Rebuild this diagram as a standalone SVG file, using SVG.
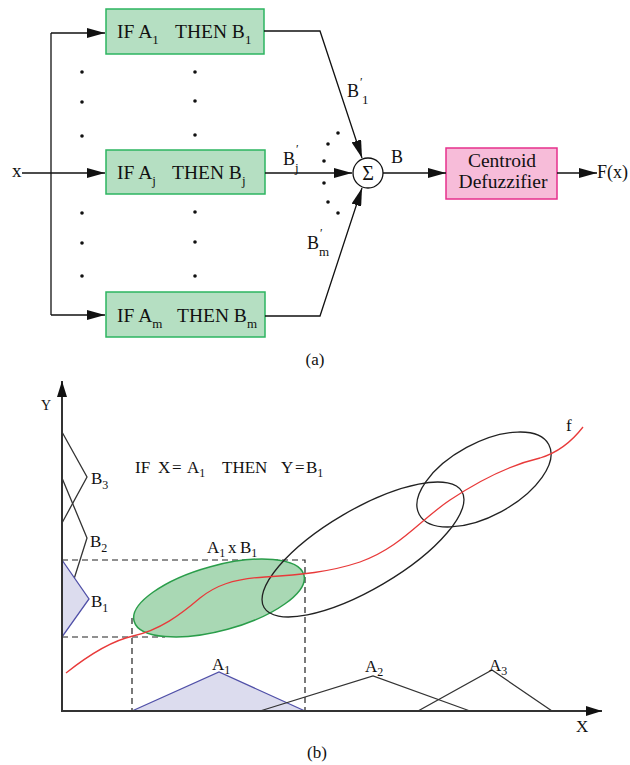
<svg xmlns="http://www.w3.org/2000/svg" width="630" height="765" viewBox="0 0 630 765">
<style>
text{font-family:"Liberation Serif","Times New Roman",serif;fill:#111}
.bt{font-size:19.5px}
.sb{font-size:13px}
.lb{font-size:17px}
.ls{font-size:12px}
.rule{fill:#b5dfc2;stroke:#2db560;stroke-width:1.5}
.ln{fill:none;stroke:#111;stroke-width:1.3}
.ax{fill:none;stroke:#333;stroke-width:2}
.tri{fill:none;stroke:#333;stroke-width:1.3}
.mf{fill:#dcdcee;stroke:#5050a8;stroke-width:1.3}
.dash{fill:none;stroke:#222;stroke-width:1.2;stroke-dasharray:6 4}
.dot{fill:#111}
</style>
<defs>
<marker id="ah" markerUnits="userSpaceOnUse" markerWidth="18" markerHeight="10" refX="18" refY="5" orient="auto">
<path d="M0,0 L18,5 L0,10 z" fill="#111"/>
</marker>
<marker id="ah2" markerUnits="userSpaceOnUse" markerWidth="16" markerHeight="10" refX="16" refY="5" orient="auto">
<path d="M0,0 L16,5 L0,10 z" fill="#111"/>
</marker>
</defs>
<rect width="630" height="765" fill="#fff"/>

<!-- Part (a) -->
<g id="input-x"><text x="12" y="177" font-size="19">x</text></g>

<g id="rule-1">
<rect class="rule" x="106" y="9" width="158" height="45"/>
<text class="bt" x="117" y="38">IF A<tspan class="sb" dy="6">1</tspan><tspan x="175" dy="-6">THEN B</tspan><tspan class="sb" dy="6">1</tspan></text>
</g>
<g id="rule-j">
<rect class="rule" x="106" y="150" width="159" height="44"/>
<text class="bt" x="117" y="179">IF A<tspan class="sb" dy="6">j</tspan><tspan x="172" dy="-6">THEN B</tspan><tspan class="sb" dy="6">j</tspan></text>
</g>
<g id="rule-m">
<rect class="rule" x="106" y="292" width="159" height="45"/>
<text class="bt" x="117" y="322">IF A<tspan class="sb" dy="6">m</tspan><tspan x="177" dy="-6">THEN B</tspan><tspan class="sb" dy="6">m</tspan></text>
</g>

<g id="dots-rules">
<circle class="dot" cx="82" cy="72" r="1.8"/><circle class="dot" cx="82" cy="102" r="1.8"/><circle class="dot" cx="82" cy="136" r="1.8"/>
<circle class="dot" cx="195" cy="72" r="1.8"/><circle class="dot" cx="195" cy="101" r="1.8"/><circle class="dot" cx="195" cy="135" r="1.8"/>
<circle class="dot" cx="82" cy="213" r="1.8"/><circle class="dot" cx="82" cy="243" r="1.8"/><circle class="dot" cx="82" cy="276" r="1.8"/>
<circle class="dot" cx="195" cy="212" r="1.8"/><circle class="dot" cx="195" cy="242" r="1.8"/><circle class="dot" cx="195" cy="276" r="1.8"/>
</g>

<g id="sum">
<circle cx="368" cy="173" r="15" fill="#fff" stroke="#111" stroke-width="1.3"/>
<text x="368" y="180" font-size="20" text-anchor="middle">Σ</text>
</g>
<g id="dots-sum">
<circle class="dot" cx="338" cy="133" r="1.8"/><circle class="dot" cx="328" cy="144" r="1.8"/><circle class="dot" cx="324" cy="161" r="1.8"/>
<circle class="dot" cx="324" cy="183" r="1.8"/><circle class="dot" cx="328" cy="202" r="1.8"/><circle class="dot" cx="338" cy="213" r="1.8"/>
</g>

<g id="defuzzifier">
<rect x="446" y="148" width="111" height="51" fill="#f7bcd9" stroke="#e6308c" stroke-width="1.5"/>
<text x="502" y="167" font-size="19.5" text-anchor="middle">Centroid</text>
<text x="503" y="188" font-size="19.5" text-anchor="middle">Defuzzifier</text>
</g>
<g id="output"><text x="597" y="178" font-size="18">F(x)</text></g>

<g id="connectors">
<line class="ln" x1="22" y1="173" x2="105" y2="173" marker-end="url(#ah)"/>
<line class="ln" x1="51" y1="33" x2="51" y2="315"/>
<line class="ln" x1="51" y1="33" x2="105" y2="33" marker-end="url(#ah)"/>
<line class="ln" x1="51" y1="315" x2="105" y2="315" marker-end="url(#ah)"/>
<polyline class="ln" points="264,31 320,31 362,158" marker-end="url(#ah)"/>
<line class="ln" x1="265" y1="173" x2="352" y2="173" marker-end="url(#ah)"/>
<polyline class="ln" points="265,316 320,316 362,188" marker-end="url(#ah)"/>
<line class="ln" x1="383" y1="173" x2="446" y2="173" marker-end="url(#ah)"/>
<line class="ln" x1="557" y1="173" x2="597" y2="173" marker-end="url(#ah)"/>
</g>

<g id="connector-labels">
<text x="347" y="97" font-size="18">B</text><text x="360" y="86" font-size="12">′</text><text x="362" y="104" font-size="13">1</text>
<text x="283" y="165" font-size="18">B</text><text x="296" y="153" font-size="12">′</text><text x="295" y="172" font-size="13">j</text>
<text x="307" y="249" font-size="18">B</text><text x="320" y="237" font-size="12">′</text><text x="319" y="256" font-size="13">m</text>
<text x="391" y="163" font-size="18">B</text>
</g>

<text x="315" y="365" font-size="17" text-anchor="middle">(a)</text>

<!-- Part (b) -->
<g id="plot-b">
<g id="dashed">
<polyline class="dash" points="62,560 305,560 305,711"/>
<polyline class="dash" points="62,637 165,637"/>
<line class="dash" x1="132" y1="618" x2="132" y2="711"/>
</g>
<g id="y-sets">
<polyline class="tri" points="62,432 87,477 62,523"/>
<polyline class="tri" points="62,478 87,538 62,617"/>
<polygon class="mf" points="62,560 89,599 62,637"/>
<text class="lb" x="91" y="484">B<tspan class="ls" dy="5">3</tspan></text>
<text class="lb" x="90" y="547">B<tspan class="ls" dy="5">2</tspan></text>
<text class="lb" x="91" y="607">B<tspan class="ls" dy="5">1</tspan></text>
</g>
<g id="x-sets">
<polygon class="mf" points="132,711 219,672 305,711"/>
<polyline class="tri" points="260,711 373,676 470,711"/>
<polyline class="tri" points="418,711 492,670 552,711"/>
<text class="lb" x="212" y="670">A<tspan class="ls" dy="4">1</tspan></text>
<text class="lb" x="365" y="672">A<tspan class="ls" dy="4">2</tspan></text>
<text class="lb" x="489" y="671">A<tspan class="ls" dy="4">3</tspan></text>
</g>
<g id="patch-green">
<ellipse cx="219" cy="598" rx="88" ry="32.5" transform="rotate(-15.3 219 598)" fill="#a9d8b4" stroke="#2a9d4a" stroke-width="1.5"/>
<text class="lb" x="207" y="553">A<tspan class="ls" dy="4">1</tspan><tspan x="228" dy="-4">x</tspan><tspan x="240">B</tspan><tspan class="ls" dy="4">1</tspan></text>
</g>
<g id="patches-black">
<ellipse cx="363" cy="549.5" rx="114.7" ry="39.9" transform="rotate(-30.4 363 549.5)" fill="none" stroke="#222" stroke-width="1.3"/>
<ellipse cx="484" cy="479.5" rx="73.6" ry="36.5" transform="rotate(-28.4 484 479.5)" fill="none" stroke="#222" stroke-width="1.3"/>
</g>
<g id="curve-f">
<path d="M66,673 C95,650 115,640 133,636 C160,630 180,615 200,598 C215,586 232,579 265,577 C300,575 330,572 360,562 C400,548 420,520 450,500 C480,480 510,465 540,458 C560,452 573,440 583,427" fill="none" stroke="#e83a3a" stroke-width="1.3"/>
<text class="lb" x="566" y="431">f</text>
</g>
<g id="axes">
<line class="ax" x1="62" y1="711" x2="62" y2="381" marker-end="url(#ah2)"/>
<line class="ax" x1="61" y1="711" x2="602" y2="711" marker-end="url(#ah2)"/>
<text x="41" y="410" font-size="14">Y</text>
<text class="lb" x="576" y="732">X</text>
</g>
<text x="135" y="473" font-size="17">IF<tspan x="158">X</tspan><tspan x="172">=</tspan><tspan x="187">A</tspan><tspan class="ls" dy="4">1</tspan><tspan x="222" dy="-4">THEN</tspan><tspan x="281">Y</tspan><tspan x="295">=</tspan><tspan x="306">B</tspan><tspan class="ls" dy="4">1</tspan></text>
</g>

<text x="317" y="758" font-size="17" text-anchor="middle">(b)</text>
</svg>
